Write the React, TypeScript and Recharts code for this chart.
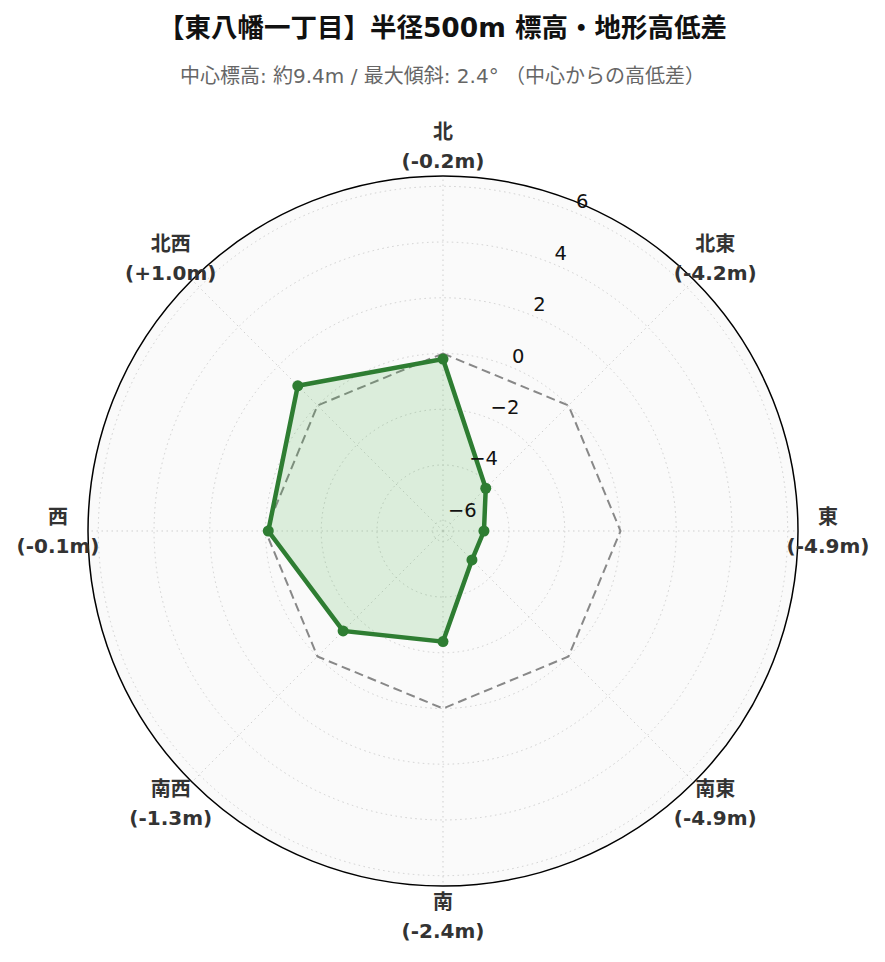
import { RadarChart, Radar, PolarGrid, PolarAngleAxis, PolarRadiusAxis } from 'recharts';

const directions = ['北', '北東', '東', '南東', '南', '南西', '西', '北西'];
const elevationDiffs = [-0.2, -4.2, -4.9, -4.9, -2.4, -1.3, -0.1, 1.0];
const centerLevel = [0, 0, 0, 0, 0, 0, 0, 0];
const radiusTicks = [-6, -4, -2, 0, 2, 4, 6];
const radiusDomain = [-6.37, 6.37];

const WIDTH = 885;
const HEIGHT = 962;
const CX = 443;
const CY = 531;
const OUTER_R = 355;
const LABEL_R = 385;
const RAD = Math.PI / 180;

const chartData = directions.map((dir, i) => ({
  dir,
  diff: elevationDiffs[i],
  zero: centerLevel[i],
}));

const fmtDiff = (v: number) => `(${v > 0 ? '+' : ''}${v.toFixed(1)}m)`;

function AngleTick(props: any) {
  const { payload } = props;
  const angle = payload.coordinate;
  const x = CX + LABEL_R * Math.cos(-angle * RAD);
  const y = CY + LABEL_R * Math.sin(-angle * RAD);
  const idx = directions.indexOf(payload.value);
  const common = {
    textAnchor: 'middle' as const,
    dominantBaseline: 'central' as const,
    fontFamily: "'DejaVu Sans', 'Noto Sans CJK JP', sans-serif",
    fontWeight: 'bold',
    fontSize: 20,
    fill: '#333',
  };
  return (
    <g>
      <text x={x} y={y - 14.5} {...common}>
        {payload.value}
      </text>
      <text x={x} y={y + 14.5} {...common}>
        {fmtDiff(elevationDiffs[idx])}
      </text>
    </g>
  );
}

function RadiusTick(props: any) {
  const { x, y, payload } = props;
  const label = String(payload.value).replace('-', '\u2212');
  return (
    <text
      x={x + 1}
      y={y - 11}
      textAnchor="start"
      dominantBaseline="central"
      fontFamily="'DejaVu Sans', sans-serif"
      fontSize={19.5}
      fill="#111"
    >
      {label}
    </text>
  );
}

export default function App() {
  return (
    <div style={{ position: 'absolute', left: 0, top: 0, width: WIDTH, height: HEIGHT, background: '#fff' }}>
      <div
        style={{
          position: 'absolute',
          left: CX - OUTER_R,
          top: CY - OUTER_R,
          width: OUTER_R * 2,
          height: OUTER_R * 2,
          borderRadius: '50%',
          background: '#fafafa',
        }}
      />
      <div
        style={{
          position: 'absolute',
          left: 0,
          top: 11,
          width: WIDTH,
          textAlign: 'center',
          fontFamily: "'DejaVu Sans', 'Noto Sans CJK JP', sans-serif",
          fontWeight: 'bold',
          fontSize: 26.5,
          lineHeight: '34px',
          color: '#111',
        }}
      >
        【東八幡一丁目】半径500m 標高・地形高低差
      </div>
      <div
        style={{
          position: 'absolute',
          left: 0,
          top: 63,
          width: WIDTH,
          textAlign: 'center',
          fontFamily: "'DejaVu Sans', 'Noto Sans CJK JP', sans-serif",
          fontSize: 20,
          lineHeight: '26px',
          color: '#666',
        }}
      >
        中心標高: 約9.4m / 最大傾斜: 2.4° （中心からの高低差）
      </div>
      <div style={{ position: 'absolute', left: 0, top: 0 }}>
        <RadarChart
          width={WIDTH}
          height={HEIGHT}
          data={chartData}
          cx={CX}
          cy={CY}
          outerRadius={OUTER_R}
          margin={{ top: 0, right: 0, bottom: 0, left: 0 }}
        >
          <PolarGrid gridType="circle" stroke="#cfcfcf" strokeDasharray="1.5 3.5" strokeWidth={1} />
          <PolarAngleAxis
            dataKey="dir"
            tick={<AngleTick />}
            tickLine={false}
            axisLineType="circle"
            axisLine={{ stroke: '#000', strokeWidth: 1.5 }}
          />
          <PolarRadiusAxis
            angle={67.5}
            type="number"
            domain={radiusDomain}
            ticks={radiusTicks}
            axisLine={false}
            tickLine={false}
            tick={<RadiusTick />}
          />
          <Radar
            dataKey="zero"
            stroke="#888"
            strokeWidth={2}
            strokeDasharray="9 5"
            fill="none"
            fillOpacity={0}
            dot={false}
            isAnimationActive={false}
          />
          <Radar
            dataKey="diff"
            stroke="#2e7d32"
            strokeWidth={4.5}
            fill="#4caf50"
            fillOpacity={0.18}
            dot={{ r: 5.5, fill: '#2e7d32', stroke: '#2e7d32', strokeWidth: 0, fillOpacity: 1 }}
            isAnimationActive={false}
          />
        </RadarChart>
      </div>
    </div>
  );
}
